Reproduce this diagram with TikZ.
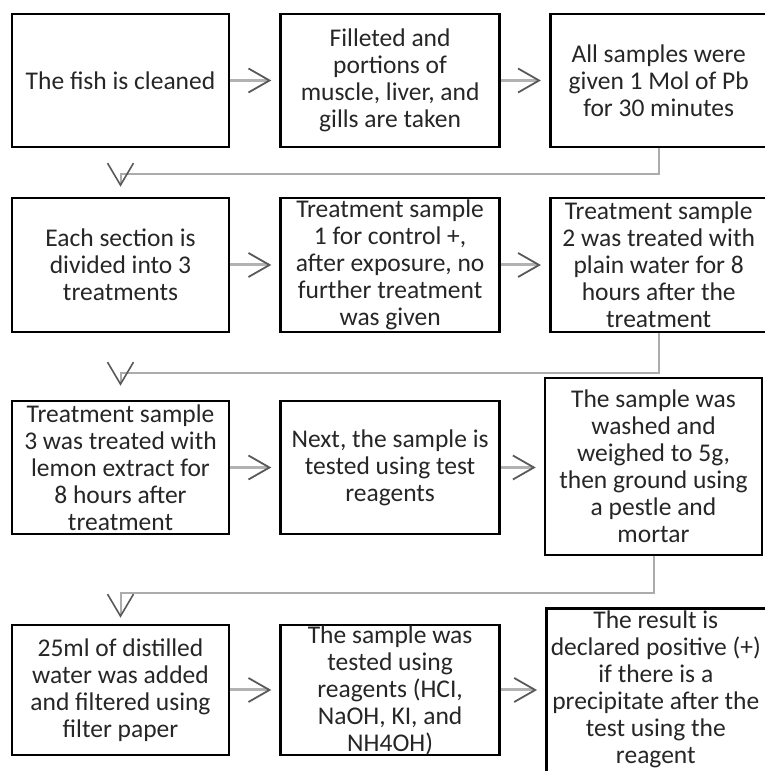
\documentclass[tikz,border=0pt]{standalone}
\usepackage{fontspec}
\setmainfont{Carlito}
\usetikzlibrary{arrows.meta,positioning}

\tikzset{
    stepbox/.style={draw, line width=2.6pt, minimum width=217pt, minimum height=133pt, inner sep=0pt},
    steptext/.style={align=center, font=\fontsize{25.5}{27}\selectfont, text=black!85, inner sep=0pt},
    flow/.style={draw=gray!60, line width=3pt, shorten >=8pt,
        -{Straight Barb[length=21pt,width=24pt,line width=1.8pt,color=black!65]}},
    turn/.style={draw=gray!65, line width=2pt,
        -{Straight Barb[length=22pt,width=26pt,line width=1.6pt,color=black!65]}},
}

\begin{document}
\begin{tikzpicture}[x=1pt, y=1pt]
    \useasboundingbox (0,0) rectangle (764,771);

    % Row 1
    \node[stepbox, label={[steptext]center:The fish is cleaned}] (a1) at (120.5,690.5) {};
    \node[stepbox, minimum width=219pt, right=49pt of a1,
        label={[steptext]center:Filleted and\\portions of\\muscle, liver, and\\gills are taken}] (a2) {};
    \node[stepbox, right=48pt of a2,
        label={[steptext]center:All samples were\\given 1 Mol of Pb\\for 30 minutes}] (a3) {};

    % Row 2
    \node[stepbox, minimum height=134pt,
        label={[steptext]center:Each section is\\divided into 3\\treatments}] (b1) at (120.5,506) {};
    \node[stepbox, minimum width=219pt, minimum height=134pt, right=49pt of b1,
        label={[steptext]center:Treatment sample\\1 for control +,\\after exposure, no\\further treatment\\was given}] (b2) {};
    \node[stepbox, minimum height=134pt, right=48pt of b2,
        label={[steptext]center:Treatment sample\\2 was treated with\\plain water for 8\\hours after the\\treatment}] (b3) {};

    % Row 3
    \node[stepbox,
        label={[steptext]center:Treatment sample\\3 was treated with\\lemon extract for\\8 hours after\\treatment}] (c1) at (120.5,303.5) {};
    \node[stepbox, minimum width=219pt, right=49pt of c1,
        label={[steptext]center:Next, the sample is\\tested using test\\reagents}] (c2) {};
    \node[stepbox, minimum height=177pt,
        label={[steptext]center:The sample was\\washed and\\weighed to 5g,\\then ground using\\a pestle and\\mortar}] (c3) at (653.5,304.5) {};

    % Row 4
    \node[stepbox, minimum height=130pt,
        label={[steptext]center:25ml of distilled\\water was added\\and filtered using\\filter paper}] (d1) at (120.5,81) {};
    \node[stepbox, minimum width=219pt, minimum height=130pt, right=49pt of d1,
        label={[steptext]center:The sample was\\tested using\\reagents (HCI,\\NaOH, KI, and\\NH4OH)}] (d2) {};
    \node[stepbox, minimum width=225pt, minimum height=200pt, anchor=north west,
        label={[steptext, anchor=north, yshift=-4pt, xshift=-3pt]north:The result is\\declared positive (+)\\if there is a\\precipitate after the\\test using the\\reagent}] (d3) at (545,164) {};

    % Arrows along the rows
    \draw[flow] (a1) -- (a2);
    \draw[flow] (a2) -- (a3);
    \draw[flow] (b1) -- (b2);
    \draw[flow] (b2) -- (b3);
    \draw[flow] (c1) -- (c2);
    \draw[flow] (c2.east) -- (c2.east -| c3.west);
    \draw[flow] (d1) -- (d2);
    \draw[flow] (d2.east) -- (d2.east -| d3.west);

    % Turns to the next row
    \draw[turn] (a3.south) -- ++(0,-26) -| ([yshift=10pt]b1.north);
    \draw[turn] (b3.south) -- ++(0,-40) -| ([yshift=14pt]c1.north);
    \draw[turn] (c3.south) -- ++(0,-37) -| ([yshift=6pt]d1.north);
\end{tikzpicture}
\end{document}
